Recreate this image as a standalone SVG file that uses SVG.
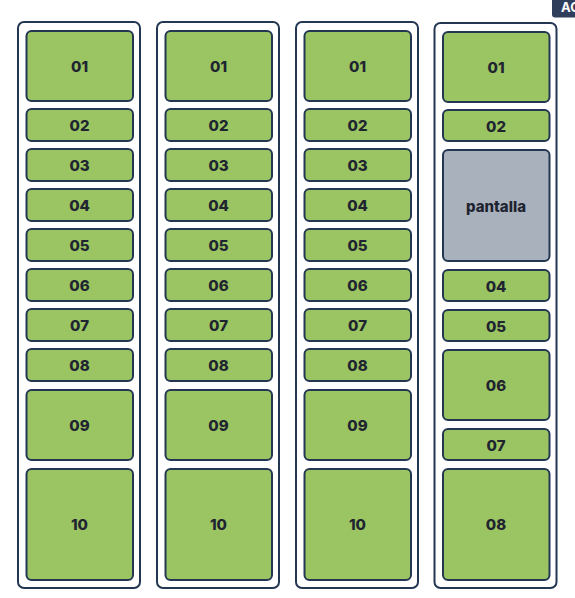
<svg xmlns="http://www.w3.org/2000/svg" width="575" height="598" viewBox="0 0 575 598">
<style>
.col{fill:#ffffff;stroke:#233752;stroke-width:2}
.n{fill:#9bc462;stroke:#233752;stroke-width:2}
.g{fill:#a9b1bd;stroke:#233752;stroke-width:2}
.t{font-family:Inter,"Noto Sans","Liberation Sans",sans-serif;font-weight:800;font-size:15px;fill:#1e2430;text-anchor:middle;dominant-baseline:central}
.b{font-family:Inter,"Noto Sans","Liberation Sans",sans-serif;font-weight:700;font-size:13px;fill:#ffffff}
</style>
<rect width="575" height="598" fill="#ffffff"/>
<g id="btn"><rect x="552" y="-6" width="30" height="23.5" rx="3" fill="#2f3e5b"/><text class="b" x="561" y="12">AC</text></g>
<g id="col1">
<rect class="col" x="18" y="22" width="122" height="566" rx="6"/>
<g id="c1n01"><rect class="n" x="26.5" y="31" width="106.5" height="70" rx="5"/><text class="t" x="79.5" y="66">01</text></g>
<g id="c1n02"><rect class="n" x="26.5" y="109" width="106.5" height="32" rx="5"/><text class="t" x="79.5" y="125">02</text></g>
<g id="c1n03"><rect class="n" x="26.5" y="149" width="106.5" height="32" rx="5"/><text class="t" x="79.5" y="165">03</text></g>
<g id="c1n04"><rect class="n" x="26.5" y="189" width="106.5" height="32" rx="5"/><text class="t" x="79.5" y="205">04</text></g>
<g id="c1n05"><rect class="n" x="26.5" y="229" width="106.5" height="32" rx="5"/><text class="t" x="79.5" y="245">05</text></g>
<g id="c1n06"><rect class="n" x="26.5" y="269" width="106.5" height="32" rx="5"/><text class="t" x="79.5" y="285">06</text></g>
<g id="c1n07"><rect class="n" x="26.5" y="309" width="106.5" height="32" rx="5"/><text class="t" x="79.5" y="325">07</text></g>
<g id="c1n08"><rect class="n" x="26.5" y="349" width="106.5" height="32" rx="5"/><text class="t" x="79.5" y="365">08</text></g>
<g id="c1n09"><rect class="n" x="26.5" y="390" width="106.5" height="70" rx="5"/><text class="t" x="79.5" y="425">09</text></g>
<g id="c1n10"><rect class="n" x="26.5" y="469" width="106.5" height="111" rx="5"/><text class="t" x="79.5" y="524.5">10</text></g>
</g>
<g id="col2" transform="translate(139,0)">
<rect class="col" x="18" y="22" width="122" height="566" rx="6"/>
<g id="c2n01"><rect class="n" x="26.5" y="31" width="106.5" height="70" rx="5"/><text class="t" x="79.5" y="66">01</text></g>
<g id="c2n02"><rect class="n" x="26.5" y="109" width="106.5" height="32" rx="5"/><text class="t" x="79.5" y="125">02</text></g>
<g id="c2n03"><rect class="n" x="26.5" y="149" width="106.5" height="32" rx="5"/><text class="t" x="79.5" y="165">03</text></g>
<g id="c2n04"><rect class="n" x="26.5" y="189" width="106.5" height="32" rx="5"/><text class="t" x="79.5" y="205">04</text></g>
<g id="c2n05"><rect class="n" x="26.5" y="229" width="106.5" height="32" rx="5"/><text class="t" x="79.5" y="245">05</text></g>
<g id="c2n06"><rect class="n" x="26.5" y="269" width="106.5" height="32" rx="5"/><text class="t" x="79.5" y="285">06</text></g>
<g id="c2n07"><rect class="n" x="26.5" y="309" width="106.5" height="32" rx="5"/><text class="t" x="79.5" y="325">07</text></g>
<g id="c2n08"><rect class="n" x="26.5" y="349" width="106.5" height="32" rx="5"/><text class="t" x="79.5" y="365">08</text></g>
<g id="c2n09"><rect class="n" x="26.5" y="390" width="106.5" height="70" rx="5"/><text class="t" x="79.5" y="425">09</text></g>
<g id="c2n10"><rect class="n" x="26.5" y="469" width="106.5" height="111" rx="5"/><text class="t" x="79.5" y="524.5">10</text></g>
</g>
<g id="col3" transform="translate(278,0)">
<rect class="col" x="18" y="22" width="122" height="566" rx="6"/>
<g id="c3n01"><rect class="n" x="26.5" y="31" width="106.5" height="70" rx="5"/><text class="t" x="79.5" y="66">01</text></g>
<g id="c3n02"><rect class="n" x="26.5" y="109" width="106.5" height="32" rx="5"/><text class="t" x="79.5" y="125">02</text></g>
<g id="c3n03"><rect class="n" x="26.5" y="149" width="106.5" height="32" rx="5"/><text class="t" x="79.5" y="165">03</text></g>
<g id="c3n04"><rect class="n" x="26.5" y="189" width="106.5" height="32" rx="5"/><text class="t" x="79.5" y="205">04</text></g>
<g id="c3n05"><rect class="n" x="26.5" y="229" width="106.5" height="32" rx="5"/><text class="t" x="79.5" y="245">05</text></g>
<g id="c3n06"><rect class="n" x="26.5" y="269" width="106.5" height="32" rx="5"/><text class="t" x="79.5" y="285">06</text></g>
<g id="c3n07"><rect class="n" x="26.5" y="309" width="106.5" height="32" rx="5"/><text class="t" x="79.5" y="325">07</text></g>
<g id="c3n08"><rect class="n" x="26.5" y="349" width="106.5" height="32" rx="5"/><text class="t" x="79.5" y="365">08</text></g>
<g id="c3n09"><rect class="n" x="26.5" y="390" width="106.5" height="70" rx="5"/><text class="t" x="79.5" y="425">09</text></g>
<g id="c3n10"><rect class="n" x="26.5" y="469" width="106.5" height="111" rx="5"/><text class="t" x="79.5" y="524.5">10</text></g>
</g>
<g id="col4" transform="translate(416.5,0)">
<rect class="col" x="18" y="23" width="122" height="565" rx="6"/>
<g id="c4n01"><rect class="n" x="26.5" y="32" width="106.5" height="70" rx="5"/><text class="t" x="79.5" y="67">01</text></g>
<g id="c4n02"><rect class="n" x="26.5" y="110" width="106.5" height="31" rx="5"/><text class="t" x="79.5" y="126">02</text></g>
<g id="c4pantalla"><rect class="g" x="26.5" y="150" width="106.5" height="111" rx="5"/><text class="t" x="79.5" y="206">pantalla</text></g>
<g id="c4n04"><rect class="n" x="26.5" y="270" width="106.5" height="31" rx="5"/><text class="t" x="79.5" y="286">04</text></g>
<g id="c4n05"><rect class="n" x="26.5" y="310" width="106.5" height="31" rx="5"/><text class="t" x="79.5" y="326">05</text></g>
<g id="c4n06"><rect class="n" x="26.5" y="350" width="106.5" height="70" rx="5"/><text class="t" x="79.5" y="385">06</text></g>
<g id="c4n07"><rect class="n" x="26.5" y="429" width="106.5" height="31" rx="5"/><text class="t" x="79.5" y="445">07</text></g>
<g id="c4n08"><rect class="n" x="26.5" y="469" width="106.5" height="111" rx="5"/><text class="t" x="79.5" y="524.5">08</text></g>
</g>
<g id="connectors"/>
</svg>
